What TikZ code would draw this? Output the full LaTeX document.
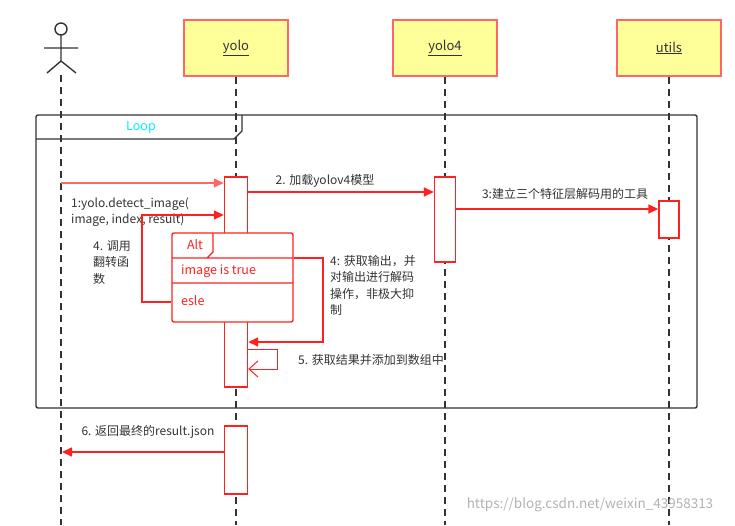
\documentclass[tikz,border=0pt]{standalone}
\usepackage{fontspec}
\setmainfont{Noto Sans CJK SC}
\usetikzlibrary{arrows.meta}
\definecolor{rd}{HTML}{FF2020}
\definecolor{pk}{HTML}{FF6666}
\definecolor{yl}{HTML}{FFFF99}
\definecolor{dk}{HTML}{333333}
\definecolor{cy}{HTML}{00F0FF}
\tikzset{
 head/.style={draw=pk,fill=yl,line width=1.4pt,minimum width=104pt,minimum height=56pt,inner sep=0pt,font=\fontsize{13}{15}\selectfont,text=dk},
 life/.style={dk,line width=1.4pt,dash pattern=on 7pt off 5pt},
 act/.style={draw=rd,fill=white,line width=1.4pt,inner sep=0pt},
 msg/.style={rd,line width=1.6pt,-{Triangle[length=10pt,width=9pt]}},
 lbl/.style={font=\fontsize{12}{16.5}\selectfont,text=dk,align=left,inner sep=0pt},
 rl/.style={font=\fontsize{12.5}{15}\selectfont,text=rd,inner sep=0pt}
}
\begin{document}
\begin{tikzpicture}[x=1pt,y=-1pt]
\useasboundingbox (0,0) rectangle (735,525);
% actor
\draw[dk,line width=1.4pt] (61,29) circle (6);
\draw[dk,line width=1.4pt] (61,35)--(61,61) (44,48)--(78,48) (47,73)--(61,61)--(76,73);
\coordinate (a0) at (61,75);
\draw[life] (a0)--(61,525);
% heads
\node[head] (yolo) at (236,48) {\underline{yolo}};
\node[head] (yolo4) at (445,48) {\underline{yolo4}};
\node[head] (utils) at (669,48) {\underline{utils}};
\draw[life] (yolo.south)--(236,525);
\draw[life] (yolo4.south)--(445,525);
\draw[life] (utils.south)--(669,525);
% loop frame
\draw[dk,line width=1.4pt,rounded corners=2pt] (36,115) rectangle (697,408);
\draw[dk,line width=1.4pt] (36,139)--(234,139)--(242,131)--(242,115);
\node[font=\fontsize{12.5}{15}\selectfont,text=cy] (loop) at (141,127) {Loop};
% activations
\node[act,minimum width=23pt,minimum height=210pt] (A1) at (236,282) {};
\node[act,minimum width=23pt,minimum height=68pt] (A2) at (236,460) {};
\node[act,minimum width=21pt,minimum height=85pt] (B1) at (445,219.5) {};
\node[act,minimum width=20pt,minimum height=37pt] (C1) at (669,219.5) {};
% msg 1
\coordinate (m1s) at (61,183);
\draw[pk,line width=1.4pt,-{Triangle[length=10pt,width=9pt]}] (m1s)--(A1.west |- m1s);
\node[lbl,anchor=north west] (t1) at (71,197) {1:yolo.detect\_image(\\image, index, result)};
% msg 2
\coordinate (m2) at (247,192);
\draw[msg] (m2)--(B1.west |- m2);
\node[lbl] (t2) at (325,181) {2. 加载yolov4模型};
% msg 3
\coordinate (m3) at (455,209);
\draw[msg] (m3)--(C1.west |- m3);
\node[lbl] (t3) at (565,194) {3:建立三个特征层解码用的工具};
% alt frame
\node[draw=rd,fill=white,line width=1.4pt,minimum width=121pt,minimum height=89pt,inner sep=0pt,rounded corners=2pt] (alt) at (232.5,277.5) {};
\draw[rd,line width=1.4pt] (172,258)--(293,258) (172,283)--(293,283) (213,233)--(213,252)--(207,258);
\node[rl] (altl) at (195,245) {Alt};
\node[rl,anchor=west] (cond) at (181,271) {image is true};
\node[rl,anchor=west] (els) at (181,301) {esle};
% loop-back arrow
\draw[msg] (alt.west |- 0,302)--(142,302)--(142,215)--(A1.west |- 0,215);
\node[lbl,anchor=north west] (t4a) at (93,240) {4. 调用\\翻转函\\数};
% msg 4
\draw[msg] (alt.east |- 0,258)--(323,258)--(323,342)--(A1.east |- 0,342);
\node[lbl,anchor=north west] (t4b) at (330,255) {4: 获取输出，并\\对输出进行解码\\操作，非极大抑\\制};
% msg 5 self
\draw[rd,line width=1pt,-{Straight Barb[length=9pt,width=16pt]}] (A1.east |- 0,349)--(277,349)--(277,369)--(A1.east |- 0,369);
\node[lbl,anchor=west] (t5) at (298,360) {5. 获取结果并添加到数组中};
% msg 6
\draw[msg] (A2.west |- 0,452)--(62,452);
\node[lbl] (t6) at (148,432) {6. 返回最终的result.json};
\node[font=\fontsize{13.5}{15}\selectfont,text=gray!60] (wm) at (590,505) {https://blog.csdn.net/weixin\_43958313};
\end{tikzpicture}
\end{document}
